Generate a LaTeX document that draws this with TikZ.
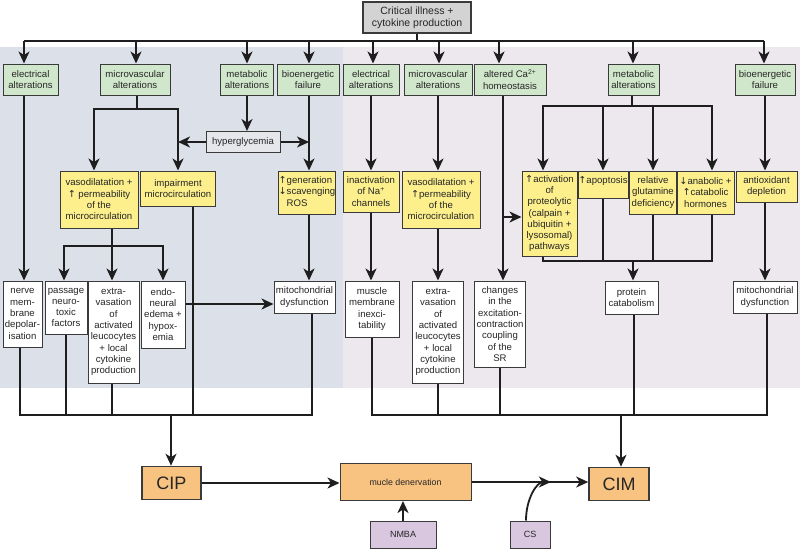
\documentclass[tikz,border=0pt]{standalone}
\usepackage{fontspec}
\setmainfont{Liberation Sans}
\newfontfamily\arrfont{DejaVu Sans}
\usetikzlibrary{arrows.meta,calc}
\newcommand\uar{{\arrfont\char"2191}}
\newcommand\dar{{\arrfont\char"2193}}
\definecolor{panelL}{HTML}{DCE1E9}
\definecolor{panelR}{HTML}{EDE8EE}
\definecolor{gfill}{HTML}{D1E7CB}
\definecolor{yfill}{HTML}{FCEF8C}
\definecolor{cfill}{HTML}{D3D3D3}
\definecolor{ofill}{HTML}{F8C281}
\definecolor{pfill}{HTML}{D9C7E0}
\definecolor{hfill}{HTML}{E5E7EB}
\definecolor{bord}{HTML}{3A3A3A}
\definecolor{lncol}{HTML}{1E1E1E}
\begin{document}
\begin{tikzpicture}[x=1pt,y=-1pt,
  every node/.style={font=\fontsize{9.6}{11.3}\selectfont, align=center, inner sep=0pt, text=black!85},
  bx/.style={draw=bord, line width=1pt},
  gbox/.style={bx, fill=gfill},
  ybox/.style={bx, fill=yfill},
  wbox/.style={bx, fill=white},
  obox/.style={draw=bord, line width=1.6pt, fill=ofill},
  pbox/.style={bx, fill=pfill},
  ln/.style={draw=lncol, line width=1.8pt},
  arr/.style={ln, -{Stealth[length=12pt,width=11pt,inset=3.5pt]}},
  sz/.style 2 args={minimum width=#1, minimum height=#2}
]
\useasboundingbox (0,0) rectangle (800,549);
% panels
\fill[panelL] (0,47) rectangle (343,388);
\fill[panelR] (343,47) rectangle (800,388);

% top
\node[bx, fill=cfill, line width=1.6pt, sz={108}{31}, font=\fontsize{10.5}{12.3}\selectfont] (crit) at (417,17.5) {Critical illness +\\cytokine production};

% green boxes
\node[gbox, sz={55}{31}] (ge1) at (30.5,79.5) {electrical\\alterations};
\node[gbox, sz={70}{31}] (gm1) at (135,79.5) {microvascular\\alterations};
\node[gbox, sz={53}{31}] (gmet1) at (247,79.5) {metabolic\\alterations};
\node[gbox, sz={62}{31}] (gb1) at (308,79.5) {bioenergetic\\failure};
\node[gbox, sz={56}{31}] (ge2) at (371,79.5) {electrical\\alterations};
\node[gbox, sz={68}{31}] (gm2) at (438,79.5) {microvascular\\alterations};
\node[gbox, sz={72}{31}] (gca) at (510,79.5) {altered Ca\textsuperscript{2+}\\homeostasis};
\node[gbox, sz={51}{31}] (gmet2) at (633.5,79.5) {metabolic\\alterations};
\node[gbox, sz={60}{31}] (gb2) at (765,79.5) {bioenergetic\\failure};

% hyperglycemia
\node[bx, fill=hfill, sz={74}{21}] (hyp) at (243,142) {hyperglycemia};

% yellow boxes
\node[ybox, sz={78}{57}] (yv1) at (99,199.5) {vasodilatation +\\\uar{} permeability\\of the\\microcirculation};
\node[ybox, sz={75}{35}] (yimp) at (178,188.5) {impairment\\microcirculation};
\node[ybox, sz={56}{43}] (yros) at (307,192.5) {\begin{tabular}{@{}l@{}}\uar generation\\\dar scavenging\\\hphantom{\uar}ROS\end{tabular}};
\node[ybox, sz={56}{41}] (yina) at (371,191.5) {inactivation\\of Na\textsuperscript{+}\\channels};
\node[ybox, sz={78}{57}] (yv2) at (441,199.5) {vasodilatation +\\\uar permeability\\of the\\microcirculation};
\node[ybox, sz={55}{85}] (yact) at (549.5,213.5) {\uar activation\\of\\proteolytic\\(calpain +\\ubiquitin +\\lysosomal)\\pathways};
\node[ybox, sz={50}{27}, text depth=9pt] (yapo) at (603,184.5) {\uar apoptosis};
\node[ybox, sz={47}{43}] (yglu) at (653,192.5) {relative\\glutamine\\deficiency};
\node[ybox, sz={57}{43}] (yhor) at (705.5,192.5) {\dar anabolic +\\\uar catabolic\\hormones};
\node[ybox, sz={61}{31}] (yant) at (766.5,186.5) {antioxidant\\depletion};

% white boxes
\node[wbox, sz={39}{66}] (wnerve) at (22.5,314) {nerve\\mem-\\brane\\depolar-\\isation};
\node[wbox, sz={42}{53}] (wpass) at (66,307.5) {passage\\neuro-\\toxic\\factors};
\node[wbox, sz={51}{102}] (wext1) at (113.5,332) {extra-\\vasation\\of\\activated\\leucocytes\\+ local\\cytokine\\production};
\node[wbox, sz={44}{67}] (wendo) at (163,314.5) {endo-\\neural\\edema +\\hypox-\\emia};
\node[wbox, sz={61}{32}] (wmito1) at (304.5,297) {mitochondrial\\dysfunction};
\node[wbox, sz={54}{56}] (wmus) at (372,309) {muscle\\membrane\\inexci-\\tability};
\node[wbox, sz={51}{102}] (wext2) at (438,332) {extra-\\vasation\\of\\activated\\leucocytes\\+ local\\cytokine\\production};
\node[wbox, sz={51}{86}] (wchg) at (500,324) {changes\\in the\\excitation-\\contraction\\coupling\\of the\\SR};
\node[wbox, sz={53}{33}] (wprot) at (631.5,297.5) {protein\\catabolism};
\node[wbox, sz={64}{32}] (wmito2) at (765,297) {mitochondrial\\dysfunction};

% bottom
\node[obox, sz={59}{33}, font=\fontsize{18}{20}\selectfont] (cip) at (171.5,483) {CIP};
\node[obox, line width=1pt, sz={131}{37}, font=\fontsize{8.8}{10}\selectfont] (mden) at (405.5,482) {mucle denervation};
\node[obox, sz={60}{33}, font=\fontsize{18}{20}\selectfont] (cim) at (619,484) {CIM};
\node[pbox, sz={66}{27}, font=\fontsize{9}{10}\selectfont] (nmba) at (403,534.5) {NMBA};
\node[pbox, sz={40}{27}, font=\fontsize{9}{10}\selectfont] (cs) at (530,534.5) {CS};

% ---------- connectors ----------
\coordinate (busL) at (24,41);
\coordinate (busR) at (764,41);
\draw[ln] (crit.south) -- (crit.south |- busL);
\draw[ln] (busL) -- (busR);
\foreach \n/\dx in {ge1/-6.5, gm1/1, gmet1/0, gb1/1, ge2/2, gm2/1, gca/-11, gmet2/-0.5, gb2/-1}
  \draw[arr] ($(\n.north)+(\dx,-23)$) -- ($(\n.north)+(\dx,0)$);

% left panel
\coordinate (e1x) at ($(ge1.south)+(-6.5,0)$);
\draw[arr] (e1x) -- (e1x |- wnerve.north);

\coordinate (mvj) at (137,109);
\draw[ln] (gm1.south -| mvj) -- (mvj);
\draw[arr] (mvj) -| ($(yv1.north)+(-5,0)$);
\draw[arr] (mvj) -| (yimp.north);

\draw[arr] (gmet1.south) -- (gmet1.south |- hyp.north);
\draw[arr] (hyp.west) -- (hyp.west -| yimp.north);
\coordinate (b1x) at ($(gb1.south)+(1,0)$);
\draw[arr] (hyp.east) -- (hyp.east -| b1x);
\draw[arr] (b1x) -- (b1x |- yros.north);

\coordinate (vj) at (112,246);
\draw[ln] (vj |- yv1.south) -- (vj);
\draw[arr] (vj) -| ($(wpass.north)+(-2,0)$);
\draw[arr] (vj) -| (wendo.north);
\draw[arr] (vj) -- (vj |- wext1.north);

\coordinate (ew) at ($(wendo.east)+(0,-10.5)$);
\draw[arr] (ew) -- (ew -| wmito1.west);
\coordinate (rx) at ($(yros.south)+(2,0)$);
\draw[arr] (rx) -- (rx |- wmito1.north);

\coordinate (lbus) at (171,415);
\draw[ln] ($(wnerve.south)+(-2.5,0)$) |- (lbus);
\draw[ln] (wpass.south) |- (lbus);
\draw[ln] ($(wext1.south)+(-1.5,0)$) |- (lbus);
\draw[ln] ($(yimp.south)+(15,0)$) |- (lbus);
\draw[ln] ($(wmito1.south)+(7.5,0)$) |- (lbus);
\draw[arr] (lbus) -- (lbus |- cip.north);

% right panel
\draw[arr] (ge2.south) -- (ge2.south |- yina.north);
\draw[arr] (yina.south) -- (yina.south |- wmus.north);
\draw[arr] (gm2.south) -- (gm2.south |- yv2.north);
\draw[arr] (wext2.north |- yv2.south) -- (wext2.north);

\coordinate (cal) at ($(gca.south)+(-7,0)$);
\draw[arr] (cal) -- (cal |- wchg.north);
\coordinate (actw) at ($(yact.west)+(0,3.5)$);
\draw[arr] (cal |- actw) -- (actw);

\coordinate (mj) at (632,106);
\draw[ln] (mj |- gmet2.south) -- (mj);
\draw[arr] (mj) -| ($(yact.north)+(-6.5,0)$);
\draw[arr] (mj) -| (yapo.north);
\draw[arr] (mj) -| (yglu.north);
\draw[arr] (mj) -| ($(yhor.north)+(6.5,0)$);

\coordinate (pj) at (633,261);
\draw[ln] ($(yact.south)+(-6.5,0)$) |- (pj);
\draw[ln] (yapo.south) |- (pj);
\draw[ln] (yglu.south) |- (pj);
\draw[ln] ($(yhor.south)+(6.5,0)$) |- (pj);
\draw[arr] (pj) -- (pj |- wprot.north);

\draw[arr] (gb2.south) -- (gb2.south |- yant.north);
\draw[arr] (wmito2.north |- yant.south) -- (wmito2.north);

\coordinate (rbus) at (621,415);
\draw[ln] (wmus.south) |- (rbus);
\draw[ln] (wext2.south) |- (rbus);
\draw[ln] (wchg.south) |- (rbus);
\draw[ln] ($(wprot.south)+(2.5,0)$) |- (rbus);
\draw[ln] ($(wmito2.south)+(2,0)$) |- (rbus);
\draw[arr] (rbus) -- (rbus |- cim.north);

% bottom connectors
\draw[arr] (cip.east) -- (cip.east -| mden.west);
\draw[arr] (mden.east) -- (mden.east -| cim.west);
\draw[arr] (nmba.north) -- (nmba.north |- mden.south);
\coordinate (cst) at ($(mden.east)!0.68!(mden.east -| cim.west)$);
\draw[arr] ($(cs.north)+(-4,0)$) .. controls +(0,-22) and +(-14,0) .. (cst);
\end{tikzpicture}
\end{document}
